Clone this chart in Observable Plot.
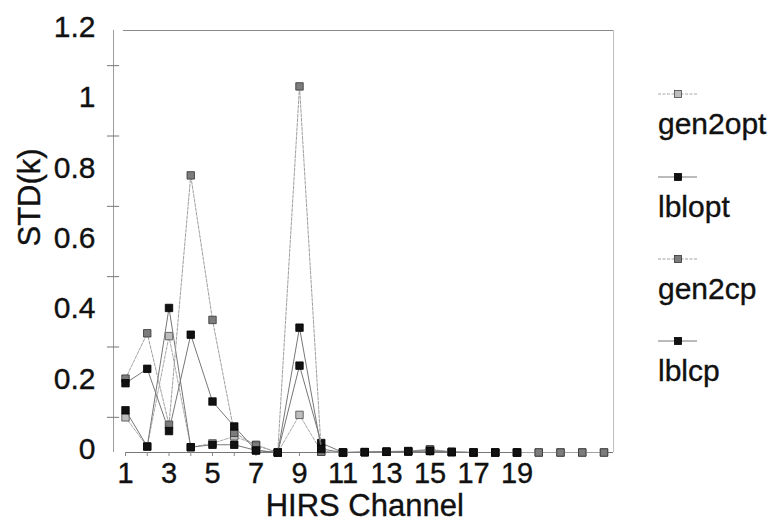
<!DOCTYPE html>
<html>
<head>
<meta charset="utf-8">
<script src="https://cdn.jsdelivr.net/npm/d3@7"></script>
<script src="https://cdn.jsdelivr.net/npm/@observablehq/plot@0.6"></script>
<style>
  body { margin: 0; background: #fff; font-family: "Liberation Sans", Arial, sans-serif; }
  #wrap { position: relative; width: 779px; height: 524px; }
  #wrap svg text { stroke: #111; stroke-width: 0.35px; }
  #legend { position: absolute; left: 658px; top: 0; width: 121px; height: 524px; }
  .swatch { position: absolute; left: 0; }
  .ltext { position: absolute; left: 0; font-size: 30px; line-height: 30px; color: #111; white-space: nowrap; -webkit-text-stroke: 0.35px #111; }
</style>
</head>
<body>
<div id="wrap"><div id="legend"></div></div>
<script>
// ---- data ----
const channels = [1, 2, 3, 4, 5, 6, 7, 8, 9, 10, 11, 12, 13, 14, 15, 16, 17, 18, 19, 20, 21, 22, 23];
const xTickLabels = [1, 3, 5, 7, 9, 11, 13, 15, 17, 19];
const yTickLabels = [0, 0.2, 0.4, 0.6, 0.8, 1, 1.2];
const yTickMarks = [0.1, 0.3, 0.5, 0.7, 0.9, 1.1];
const seriesNames = ["gen2opt", "lblopt", "gen2cp", "lblcp"];

const gen2opt = [0.100, 0.017, 0.331, 0.015, 0.026, 0.046, 0.022, 0.000, 0.107, 0.003, 0.000, 0.001, 0.003, 0.004, 0.008, 0.002, 0.000, 0.000, 0.000, 0.000, 0.000, 0.000, 0.000];
const lblopt  = [0.120, 0.017, 0.411, 0.015, 0.022, 0.022, 0.006, 0.000, 0.247, 0.027, 0.000, 0.001, 0.002, 0.003, 0.004, 0.001, 0.000, 0.000, 0.000];
const gen2cp  = [0.210, 0.339, 0.079, 0.788, 0.377, 0.056, 0.020, 0.000, 1.041, 0.002, 0.000, 0.001, 0.002, 0.004, 0.009, 0.002, 0.000, 0.000, 0.000, 0.000, 0.000, 0.000, 0.000];
const lblcp   = [0.197, 0.238, 0.061, 0.335, 0.145, 0.074, 0.006, 0.000, 0.355, 0.010, 0.000, 0.001, 0.002, 0.003, 0.005, 0.001, 0.000, 0.000, 0.000];

// ---- styles ----
const styles = {
  gen2opt: { line: "#a8a8a8", dash: "3,1.5", fill: "#bdbdbd", stroke: "#4a4a4a" },
  lblopt:  { line: "#777777", dash: null,    fill: "#111111", stroke: "#000000" },
  gen2cp:  { line: "#a0a0a0", dash: "3,1.5", fill: "#7c7c7c", stroke: "#333333" },
  lblcp:   { line: "#777777", dash: null,    fill: "#111111", stroke: "#000000" }
};

const valuesBySeries = { gen2opt, lblopt, gen2cp, lblcp };
const rows = seriesNames.flatMap(s => valuesBySeries[s].map((v, i) => ({ series: s, channel: channels[i], value: v })));

// frame geometry in data units (axis offsets of the original layout)
const yAxisX = 0.45, frameRight = 23.44, topStart = 0.91, tickHalf = 0.28;

const seriesMarks = seriesNames.flatMap(s => {
  const st = styles[s];
  const d = rows.filter(r => r.series === s);
  return [
    Plot.line(d, { x: "channel", y: "value", stroke: st.line, strokeWidth: 1, strokeDasharray: st.dash }),
    Plot.dot(d, { x: "channel", y: "value", symbol: "square", r: 4.2, fill: st.fill, stroke: st.stroke, strokeWidth: 0.8 })
  ];
});

const chart = Plot.plot({
  width: 779,
  height: 524,
  marginLeft: 125,
  marginRight: 175.5,
  marginTop: 30,
  marginBottom: 72,
  style: { fontFamily: "Liberation Sans, Arial, sans-serif", color: "#111", background: "#fff" },
  x: { domain: [1, 23], label: null },
  y: { domain: [0, 1.2], label: null },
  marks: [
    Plot.ruleY([1.2], { x1: topStart, x2: frameRight, stroke: "#8a8a8a", strokeWidth: 1 }),
    Plot.ruleX([frameRight], { y1: 0, y2: 1.2, stroke: "#bdbdbd", strokeWidth: 1 }),
    Plot.ruleX([yAxisX], { y1: 0, y2: 1.2, stroke: "#9a9a9a", strokeWidth: 1 }),
    Plot.ruleY(yTickMarks, { x1: yAxisX - tickHalf, x2: yAxisX + tickHalf, stroke: "#777", strokeWidth: 1 }),
    Plot.ruleY([0], { x1: 1, x2: frameRight, stroke: "#777", strokeWidth: 1 }),
    Plot.axisX({ ticks: channels, tickSize: 4, tickFormat: () => "", stroke: "#888", label: null }),
    Plot.axisX({ ticks: xTickLabels, tickSize: 0, tickPadding: 10, fontSize: 29, tickFormat: d => String(d), label: null }),
    Plot.axisY({ ticks: yTickLabels, tickSize: 0, tickPadding: 30, fontSize: 30, dy: -3, tickFormat: d => String(d), label: null }),
    ...seriesMarks,
    Plot.text(["HIRS Channel"], { frameAnchor: "bottom", lineAnchor: "bottom", dy: 63, fontSize: 31, fill: "#111" }),
    Plot.text(["STD(k)"], { frameAnchor: "left", rotate: -90, dx: -95, dy: 5, fontSize: 31, fill: "#111" })
  ]
});

const wrap = document.getElementById("wrap");
wrap.insertBefore(chart, wrap.firstChild);

// ---- legend (HTML overlay at right) ----
const legend = document.getElementById("legend");
const legendLineY = [94, 176.5, 258.5, 340.5];
seriesNames.forEach((s, i) => {
  const st = styles[s];
  const cy = legendLineY[i];
  const sw = document.createElementNS("http://www.w3.org/2000/svg", "svg");
  sw.setAttribute("width", 40);
  sw.setAttribute("height", 12);
  sw.setAttribute("class", "swatch");
  sw.style.top = (cy - 6) + "px";
  sw.innerHTML = `<line x1="0" x2="39" y1="6" y2="6" stroke="${st.line}" stroke-width="1" ${st.dash ? `stroke-dasharray="${st.dash}"` : ""}/>` +
    `<rect x="16.5" y="2.5" width="7" height="7" fill="${st.fill}" stroke="${st.stroke}" stroke-width="0.8"/>`;
  legend.appendChild(sw);
  const t = document.createElement("div");
  t.className = "ltext";
  t.textContent = s;
  t.style.top = (cy + 15) + "px";
  legend.appendChild(t);
});
</script>
</body>
</html>
